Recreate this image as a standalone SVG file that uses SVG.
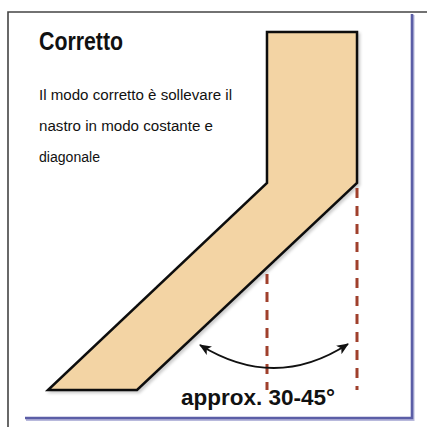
<svg xmlns="http://www.w3.org/2000/svg" width="427" height="427" viewBox="0 0 427 427">
<style>
.t{font-family:"Liberation Sans",Arial,sans-serif;fill:#111}
.b{font-weight:bold}
.dash{stroke:#a0402c;stroke-width:3;stroke-dasharray:10 8;fill:none}
</style>
<defs>
<marker id="ah" viewBox="0 0 12 10" refX="11" refY="5" markerWidth="12" markerHeight="10" markerUnits="userSpaceOnUse" orient="auto-start-reverse">
<path d="M0,0 L12,5 L0,10 L3,5 Z" fill="#111"/>
</marker>
<filter id="sh" x="-10%" y="-10%" width="130%" height="130%">
<feDropShadow dx="2" dy="2" stdDeviation="1.5" flood-color="#000" flood-opacity="0.2"/>
</filter>
</defs>
<rect width="427" height="427" fill="#fff"/>
<g id="frame">
<path d="M8,427 V12 H427" fill="none" stroke="#444" stroke-width="1.6"/>
<path d="M413.5,15 V420 H26" fill="none" stroke="#b8b9dc" stroke-width="2"/>
<path d="M412,14 V418 H25" fill="none" stroke="#5b5ea6" stroke-width="2.6"/>
</g>
<g id="title">
<text class="t b" x="39" y="50" font-size="26" textLength="84" lengthAdjust="spacingAndGlyphs">Corretto</text>
</g>
<g id="description">
<text class="t" x="39" y="99.5" font-size="15.5" textLength="193" lengthAdjust="spacingAndGlyphs">Il modo corretto è sollevare il</text>
<text class="t" x="39" y="131" font-size="15.5" textLength="174" lengthAdjust="spacingAndGlyphs">nastro in modo costante e</text>
<text class="t" x="39" y="162" font-size="15.5" textLength="61" lengthAdjust="spacingAndGlyphs">diagonale</text>
</g>
<g id="tape">
<path d="M267,32 H357 V183 L137,390 H48 L267,183 Z" fill="#f3d4a4" stroke="#111" stroke-width="2.5" stroke-linejoin="miter" filter="url(#sh)"/>
</g>
<g id="connectors">
<line class="dash" x1="267" y1="274" x2="267" y2="390"/>
<line class="dash" x1="357" y1="188" x2="357" y2="390"/>
<path d="M200,345 Q275,391.5 348,344" fill="none" stroke="#111" stroke-width="2" marker-start="url(#ah)" marker-end="url(#ah)"/>
</g>
<g id="angle-label">
<text class="t b" x="181" y="405" font-size="22" textLength="154" lengthAdjust="spacingAndGlyphs">approx. 30-45°</text>
</g>
</svg>
